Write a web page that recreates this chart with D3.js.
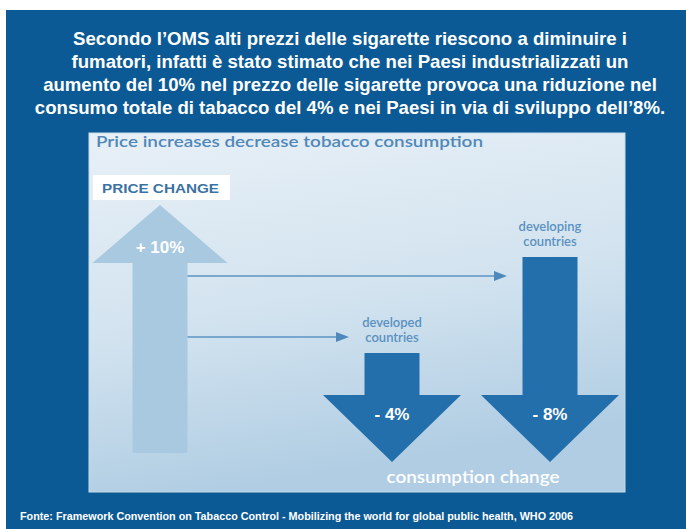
<!DOCTYPE html>
<html>
<head>
<meta charset="utf-8">
<script src="https://cdn.jsdelivr.net/npm/d3@7"></script>
<style>
  html, body { margin: 0; padding: 0; background: #fff; }
  svg { display: block; }
</style>
</head>
<body>
<svg id="chart" width="686" height="529"></svg>
<script>
// data
const titleLines = [
  "Secondo l\u2019OMS alti prezzi delle sigarette riescono a diminuire i",
  "fumatori, infatti \u00e8 stato stimato che nei Paesi industrializzati un",
  "aumento del 10% nel prezzo delle sigarette provoca una riduzione nel",
  "consumo totale di tabacco del 4% e nei Paesi in via di sviluppo dell\u20198%."
];
const regions = ["developed countries", "developing countries"];
const consumptionChange = [-4, -8];
const priceChange = [10];
const source = "Fonte: Framework Convention on Tabacco Control - Mobilizing the world for global public health, WHO 2006";

const blue = "#0b5a95";
const dark = "#236fab";
const light = "#a9c9e1";
const labelBlue = "#5a91c1";

const svg = d3.select("#chart");

// backdrop
svg.append("rect").attr("x", 6).attr("y", 10).attr("width", 680).attr("height", 519).attr("fill", blue);

const defs = svg.append("defs");
const grad = defs.append("linearGradient").attr("id", "panelGrad")
  .attr("x1", 0).attr("y1", 0).attr("x2", 0.25).attr("y2", 1);
grad.append("stop").attr("offset", "0%").attr("stop-color", "#e8f0f7");
grad.append("stop").attr("offset", "55%").attr("stop-color", "#d2e3ef");
grad.append("stop").attr("offset", "100%").attr("stop-color", "#b0cde3");

svg.append("rect").attr("x", 89).attr("y", 133).attr("width", 536).attr("height", 359)
  .attr("fill", "url(#panelGrad)").attr("stroke", "#c8dbea").attr("stroke-width", 1);

// headline
svg.append("g").selectAll("text").data(titleLines).join("text")
  .attr("x", 350).attr("y", (d, i) => 45 + i * 23)
  .attr("text-anchor", "middle")
  .attr("fill", "#fff")
  .style("font", "bold 18.6px 'Liberation Sans', Arial, sans-serif")
  .text(d => d);

svg.append("text").attr("x", 96).attr("y", 147)
  .attr("fill", "#5088b8")
  .attr("textLength", 387).attr("lengthAdjust", "spacingAndGlyphs")
  .style("font", "600 15px Lato, sans-serif")
  .text("Price increases decrease tobacco consumption");

// scales
const len = d3.scaleLinear().domain([0, 10]).range([13, 253]);
const x = d3.scalePoint().domain(regions).range([392, 550]);
const tipY = 462;

// price change arrow (up)
const upX = 160, upBottom = 453, upShaft = 55, upHead = 135, upHeadH = 58;
const upTop = upBottom - len(priceChange[0]) + 5;
svg.append("path")
  .datum(priceChange[0])
  .attr("fill", light)
  .attr("d", () => {
    const s = upShaft / 2, h = upHead / 2, hb = upTop + upHeadH;
    return `M${upX - s},${upBottom}V${hb}H${upX - h}L${upX},${upTop}L${upX + h},${hb}H${upX + s}V${upBottom}Z`;
  });

svg.append("rect").attr("x", 93).attr("y", 175).attr("width", 137).attr("height", 25).attr("fill", "#fff");
svg.append("text").attr("x", 102).attr("y", 193)
  .attr("fill", "#3b72a4")
  .attr("textLength", 117).attr("lengthAdjust", "spacingAndGlyphs")
  .style("font", "bold 13px 'Liberation Sans', Arial, sans-serif")
  .text("PRICE CHANGE");

svg.append("text").attr("x", upX).attr("y", 253)
  .attr("text-anchor", "middle").attr("fill", "#fff")
  .style("font", "bold 17px 'Liberation Sans', Arial, sans-serif")
  .text(`+ ${priceChange[0]}%`);

// connector arrows
const lineY = { "developed countries": 337, "developing countries": 276 };
const conn = svg.append("g").selectAll("g").data(regions).join("g");
conn.append("line")
  .attr("x1", upX + upShaft / 2).attr("x2", d => x(d) - 52)
  .attr("y1", d => lineY[d]).attr("y2", d => lineY[d])
  .attr("stroke", "#5b93c3").attr("stroke-width", 1.5);
conn.append("path")
  .attr("fill", "#4f89bb")
  .attr("d", d => {
    const t = x(d) - 43, y = lineY[d];
    return `M${t},${y}L${t - 13},${y - 5}L${t - 13},${y + 5}Z`;
  });

// consumption arrows (down)
const shaft = 55, head = 138, headH = 67;
const downs = svg.append("g").selectAll("g")
  .data(regions.map((r, i) => ({ region: r, value: consumptionChange[i] })))
  .join("g");

downs.append("path")
  .attr("fill", dark)
  .attr("d", d => {
    const cx = x(d.region), top = tipY - len(Math.abs(d.value));
    const s = shaft / 2, h = head / 2, hb = tipY - headH;
    return `M${cx - s},${top}H${cx + s}V${hb}H${cx + h}L${cx},${tipY}L${cx - h},${hb}H${cx - s}Z`;
  });

downs.append("text")
  .attr("x", d => x(d.region)).attr("y", 420)
  .attr("text-anchor", "middle").attr("fill", "#fff")
  .style("font", "bold 17px 'Liberation Sans', Arial, sans-serif")
  .text(d => `- ${Math.abs(d.value)}%`);

downs.each(function (d) {
  const g = d3.select(this);
  const top = tipY - len(Math.abs(d.value));
  const words = d.region.split(" ");
  g.selectAll("text.lab").data(words).join("text")
    .attr("class", "lab")
    .attr("x", x(d.region))
    .attr("y", (w, i) => top - 26 + i * 15)
    .attr("text-anchor", "middle").attr("fill", labelBlue)
    .style("font", "600 13px Lato, sans-serif")
    .text(w => w);
});

svg.append("text").attr("x", 473).attr("y", 483)
  .attr("text-anchor", "middle").attr("fill", "#fff")
  .attr("textLength", 173).attr("lengthAdjust", "spacingAndGlyphs")
  .style("font", "600 18px Lato, sans-serif")
  .text("consumption change");

// source line
svg.append("text").attr("x", 20).attr("y", 520)
  .attr("fill", "#fff")
  .attr("textLength", 553).attr("lengthAdjust", "spacingAndGlyphs")
  .style("font", "bold 10.5px 'Liberation Sans Narrow', 'Liberation Sans', Arial, sans-serif")
  .text(source);
</script>
</body>
</html>
